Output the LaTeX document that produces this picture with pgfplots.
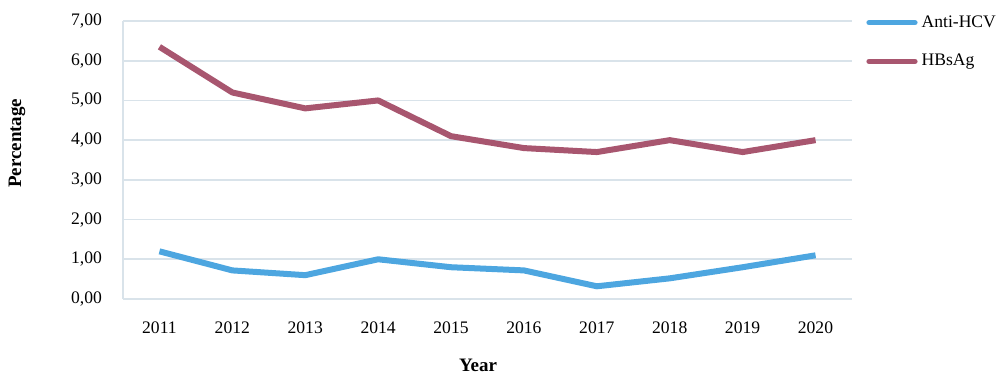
\documentclass[border=0pt]{standalone}
\usepackage{pgfplots}
\pgfplotsset{compat=1.18}
\usepackage{fontspec}
\setmainfont{Liberation Serif}
\definecolor{hcv}{HTML}{4DA6E0}
\definecolor{hbs}{HTML}{A8566F}
\definecolor{gridc}{HTML}{D9E3EA}
\begin{document}
\begin{tikzpicture}
\useasboundingbox (-61.5pt,-43pt) rectangle (438.5pt,149.5pt);
\begin{axis}[
  at={(0,0)}, anchor=south west,
  scale only axis, width=364.5pt, height=139pt,
  xmin=2010.5, xmax=2020.5, ymin=0, ymax=7,
  xtick={2011,...,2020}, ytick={0,1,...,7},
  axis x line*=bottom, axis y line*=left,
  axis line style={gridc, line width=0.8pt, -},
  ymajorgrids, major grid style={gridc, line width=0.8pt},
  major tick length=0pt,
  font=\fontsize{8.8}{10}\selectfont,
  /pgf/number format/assume math mode=true,
  xticklabel style={/pgf/number format/1000 sep={}, yshift=-8pt},
  yticklabel style={/pgf/number format/fixed, /pgf/number format/fixed zerofill, /pgf/number format/precision=2, /pgf/number format/use comma, /pgf/number format/1000 sep={}, xshift=-7pt},
  xlabel={\textbf{Year}}, ylabel={\textbf{Percentage}},
  xlabel style={at={(axis description cs:0.487,0)}, anchor=center, yshift=-33pt, font=\fontsize{9.5}{11}\selectfont},
  ylabel style={at={(axis description cs:-0.1454,0.56)}, anchor=center, font=\fontsize{9.5}{11}\selectfont},
  legend style={at={(rel axis cs:1,1)}, anchor=north west, xshift=4pt, yshift=7pt,
    draw=none, fill=none, font=\fontsize{8.8}{10}\selectfont, row sep=8pt,
    /tikz/every even column/.append style={column sep=0pt}},
  legend cell align=left,
  legend image code/.code={\draw[#1, line width=2.6pt, line cap=round] (0pt,0pt) -- (23pt,0pt);},
  every axis plot/.append style={line width=3pt, line join=round},
]
\addplot[hcv] coordinates {(2011,1.2) (2012,0.72) (2013,0.6) (2014,1.0) (2015,0.8) (2016,0.72) (2017,0.32) (2018,0.52) (2019,0.8) (2020,1.1)};
\addlegendentry{Anti-HCV}
\addplot[hbs] coordinates {(2011,6.35) (2012,5.2) (2013,4.8) (2014,5.0) (2015,4.1) (2016,3.8) (2017,3.7) (2018,4.0) (2019,3.7) (2020,4.0)};
\addlegendentry{HBsAg}
\end{axis}
\end{tikzpicture}
\end{document}
